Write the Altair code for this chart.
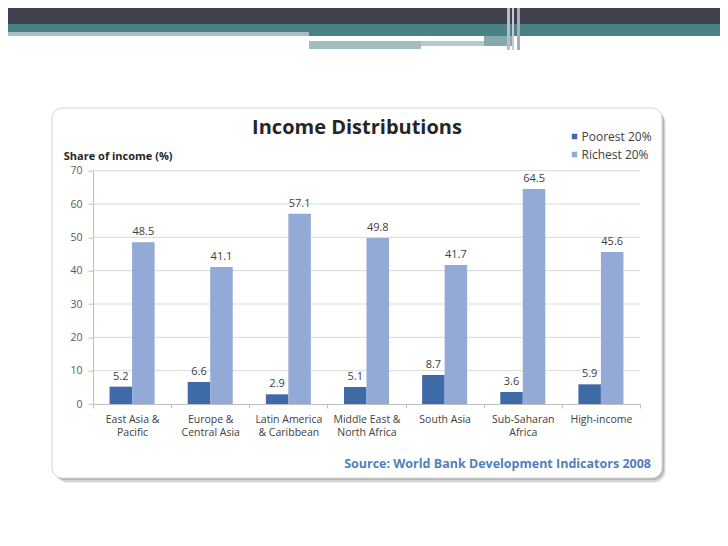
import altair as alt
import pandas as pd

# ---- data ----
categories = ["East Asia &|Pacific", "Europe &|Central Asia", "Latin America|& Caribbean",
              "Middle East &|North Africa", "South Asia", "Sub-Saharan|Africa", "High-income"]
series = ["Poorest 20%", "Richest 20%"]
poorest = [5.2, 6.6, 2.9, 5.1, 8.7, 3.6, 5.9]
richest = [48.5, 41.1, 57.1, 49.8, 41.7, 64.5, 45.6]
y_ticks = [0, 10, 20, 30, 40, 50, 60, 70]

rows = []
for c, p, r in zip(categories, poorest, richest):
    rows.append({"cat": c, "series": series[0], "value": p})
    rows.append({"cat": c, "series": series[1], "value": r})
df = pd.DataFrame(rows)
grid_df = pd.DataFrame({"value": y_ticks[1:]})

# ---- layout (page pixel coordinates of plot area) ----
PX0, PY0 = 93.0, 170.7
W, H = 547.0, 233.3
FONT = "Open Sans"
one = alt.Data(values=[{}])


def px(x):
    return x - PX0


def py(y):
    return y - PY0


def rect(x1, y1, x2, y2, color, opacity=1.0, radius=0, stroke=None):
    kw = dict(fill=color, opacity=opacity)
    if radius:
        kw["cornerRadius"] = radius
    if stroke:
        kw["stroke"] = stroke
        kw["strokeWidth"] = 1
    return alt.Chart(one).mark_rect(**kw).encode(
        x=alt.value(px(x1)), x2=alt.value(px(x2)),
        y=alt.value(py(y1)), y2=alt.value(py(y2)))


# header decoration
header = [
    rect(8, 8, 720, 24, "#40424f"),
    rect(8, 24, 720, 32, "#4a8184"),
    rect(8, 32, 309, 36, "#a4c0c3"),
    rect(309, 32, 720, 36, "#4a8184"),
    rect(309, 41, 421, 49, "#a0bdc0"),
    rect(421, 41, 512, 46, "#b4cbce"),
    rect(484, 36, 512, 46, "#86a9ad"),
    rect(507, 8, 510, 50, "#b9bbc5"),
    rect(512, 8, 514, 50, "#c9cbd3"),
    rect(517, 8, 520, 50, "#a9abb6"),
]

# box with soft shadow
box = [
    rect(56, 112, 666, 483, "#9a9a9a", 0.18, 12),
    rect(55, 111, 665, 482, "#8a8a8a", 0.25, 12),
    rect(54, 110, 664, 480, "#7a7a7a", 0.35, 11),
    rect(52, 108, 662, 478, "#ffffff", 1.0, 10, stroke="#d4d4d4"),
]

y_axis = alt.Axis(values=y_ticks, tickCount=12, grid=False, labelOverlap=False,
                  labelFontSize=10.5, labelFont=FONT,
                  labelColor="#595959", labelPadding=6, tickSize=5,
                  tickColor="#bfbfbf", domainColor="#bfbfbf",
                  title="Share of income (%)", titleAngle=0, titleAlign="left",
                  titleBaseline="middle", titleX=px(63.3), titleY=py(156),
                  titleFontSize=11, titleFont=FONT, titleFontWeight="bold",
                  titleColor="#262626", zindex=1)
y_scale = alt.Scale(domain=[0, 70], nice=False)

grid = alt.Chart(grid_df).mark_rule(color="#d9d9d9", strokeWidth=1).encode(
    y=alt.Y("value:Q", scale=y_scale, axis=y_axis))

x_axis = alt.Axis(labelAngle=0, tickBand="extent", domainColor="#bfbfbf",
                  tickColor="#bfbfbf", tickSize=4, labelPadding=6.5,
                  labelLineHeight=12.5, labelFontSize=10.5, labelFont=FONT,
                  labelColor="#404040", labelExpr="split(datum.label, '|')",
                  zindex=1)
x_enc = alt.X("cat:N", sort=categories, title=None,
              scale=alt.Scale(paddingInner=0, paddingOuter=0), axis=x_axis)
xoff_enc = alt.XOffset("series:N", sort=series,
                       scale=alt.Scale(paddingOuter=0.735, paddingInner=0))

bars = alt.Chart(df).mark_bar().encode(
    x=x_enc, xOffset=xoff_enc, y=alt.Y("value:Q", scale=y_scale, axis=y_axis),
    color=alt.Color("series:N", sort=series,
                    scale=alt.Scale(domain=series, range=["#3e6aa8", "#93a9d6"]),
                    legend=alt.Legend(title=None, orient="none", legendX=px(568.5),
                                      legendY=py(130.5), symbolType="square",
                                      symbolSize=30, symbolStrokeWidth=0,
                                      labelFontSize=12, labelFont=FONT,
                                      labelColor="#404040", rowPadding=6, padding=0,
                                      labelOffset=1)))

labels = alt.Chart(df).mark_text(dy=-10, fontSize=11, font=FONT, color="#404040",
                                 baseline="middle").encode(
    x=x_enc, xOffset=xoff_enc,
    y=alt.Y("value:Q", scale=y_scale, axis=y_axis),
    text=alt.Text("value:Q", format=".1f"))

title = alt.Chart(one).mark_text(text="Income Distributions", font=FONT, fontSize=20,
                                 fontWeight="bold", color="#262626", align="center",
                                 baseline="alphabetic").encode(
    x=alt.value(px(357)), y=alt.value(py(134)))

source = alt.Chart(one).mark_text(text="Source: World Bank Development Indicators 2008",
                                  font=FONT, fontSize=12.5, fontWeight="bold",
                                  color="#4f81bd", align="right",
                                  baseline="alphabetic").encode(
    x=alt.value(px(651)), y=alt.value(py(468)))

chart = alt.layer(*header, *box, grid, bars, labels, title, source).properties(
    width=W, height=H,
    autosize=alt.AutoSizeParams(type="none"),
    padding={"left": PX0 - 8, "top": PY0 - 8, "right": 720 - PX0 - W,
             "bottom": 538 - PY0 - H},
    background="white",
).configure_view(stroke=None)

chart.save("out.html", embed_options={"renderer": "svg", "actions": False})
